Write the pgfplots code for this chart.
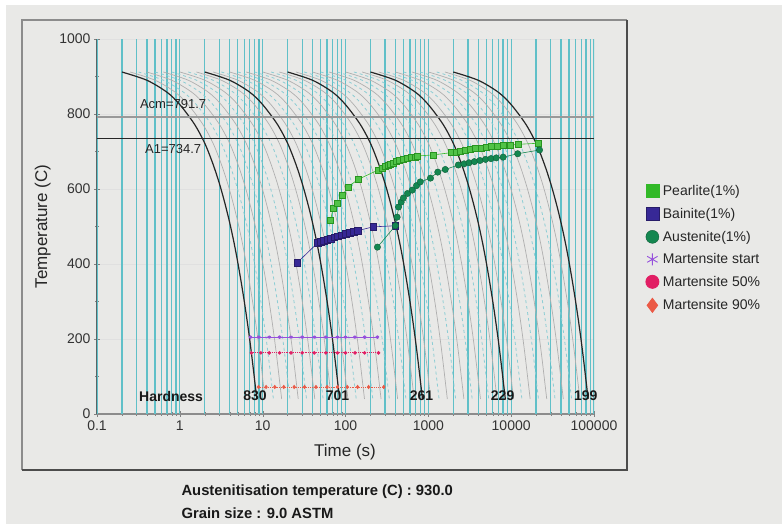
\documentclass[border=0pt]{standalone}
\usepackage{fontspec}
\setmainfont{Liberation Sans}
\usepackage{pgfplots}
\pgfplotsset{compat=1.18}
\usepackage{pgfplotstable}

\definecolor{bg}{RGB}{233,233,231}
\definecolor{cyangrid}{RGB}{96,192,200}
\definecolor{dashcyan}{RGB}{140,205,212}
\definecolor{graycurve}{RGB}{175,175,175}
\definecolor{pearl}{RGB}{50,185,40}
\definecolor{bain}{RGB}{55,40,150}
\definecolor{aust}{RGB}{20,135,80}
\definecolor{mstart}{RGB}{150,80,220}
\definecolor{mfifty}{RGB}{225,30,100}
\definecolor{mninety}{RGB}{235,90,70}

% base cooling curve (time s, temperature C)
\pgfplotstableread{
t T
0.2 912
0.4 890
0.7 858
1.0 825
1.5 773
2.0 722
2.5 668
3.0 615
3.5 562
4.0 510
4.5 458
5.0 405
5.5 352
6.0 300
6.5 248
7.0 196
7.5 143
8.0 90
8.5 40
}\cool

\pgfplotstableread{
t T
66 517
71 549
80 562
92 584
108 606
143 626
250 651
275 656
300 660
325 664
350 667
380 670
410 673
450 676
500 679
560 682
620 684
690 686
740 688
1150 691
1900 697
2150 699
2450 701
2800 704
3200 706
3700 708
4300 710
5000 711
5800 713
6800 715
8100 716
9800 717
12000 719
21000 722
}\pearlite

\pgfplotstableread{
t T
26 403
46 456
50 459
55 462
60 465
66 468
73 471
81 474
90 477
100 480
112 483
125 486
140 489
215 499
400 502
}\bainite

\pgfplotstableread{
t T
243 445
400 502
420 525
437 552
470 565
500 576
560 588
640 597
720 609
800 619
1060 629
1300 645
1600 652
2300 664
2700 667
3100 670
3600 673
4200 676
4900 679
5700 681
6600 683
8000 685
12000 694
22000 704
}\austenite

\begin{document}
\begin{tikzpicture}
\fill[white] (0pt,0pt) rectangle (782pt,-526pt);
\fill[bg] (6pt,-5pt) rectangle (782pt,-524pt);
\draw[black!45, line width=1.5pt] (22pt,-470pt) -- (22pt,-20pt) -- (627pt,-20pt);
\draw[black!70, line width=1.5pt] (627pt,-20pt) -- (627pt,-470pt) -- (22pt,-470pt);
\begin{axis}[
  at={(97pt,-414pt)}, anchor=south west, scale only axis,
  width=497pt, height=375pt,
  xmode=log, xmin=0.1, xmax=100000, ymin=0, ymax=1000,
  clip mode=individual,
  axis lines=left, axis line style={-},
  x axis line style={black!45, line width=2.2pt},
  y axis line style={black!65, line width=1pt},
  xtick={0.1,1,10,100,1000,10000,100000},
  xticklabels={0.1,1,10,100,1000,10000,100000},
  minor xtick={0.2,0.3,0.4,0.5,0.6,0.7,0.8,0.9,2,3,4,5,6,7,8,9,20,30,40,50,60,70,80,90,200,300,400,500,600,700,800,900,2000,3000,4000,5000,6000,7000,8000,9000,20000,30000,40000,50000,60000,70000,80000,90000},
  ytick={0,200,400,600,800,1000},
  minor ytick={100,300,500,700,900},
  tick align=center, major tick length=6pt, minor tick length=4pt,
  xmajorgrids=false, xminorgrids=false, ymajorgrids=true,
  major y grid style={black!12, line width=0.8pt},
  /pgf/number format/1000 sep={},
  /pgf/number format/assume math mode=true,
  ticklabel style={font=\fontsize{14}{16}\selectfont, text=black!80},
  xlabel={Time (s)}, ylabel={Temperature (C)},
  xlabel style={at={(axis description cs:0.499,-0.101)}, anchor=center, font=\fontsize{17}{19}\selectfont, text=black!85},
  ylabel style={at={(axis description cs:-0.109,0.5)}, anchor=center, font=\fontsize{17}{19}\selectfont, text=black!85},
  legend style={draw=none, fill=none, at={(axis description cs:1.104,0.613)}, anchor=north west,
    font=\fontsize{14}{16}\selectfont, row sep=10pt, inner sep=0pt,
    nodes={text=black!85, inner xsep=4pt, inner ysep=0pt}},
  legend cell align=left,
]
% vertical time grid (cyan)
\addplot[forget plot, cyangrid, line width=1.3pt, ycomb, mark=none] coordinates {
 (0.1,1000) (0.2,1000) (0.3,1000) (0.4,1000) (0.5,1000) (0.6,1000) (0.7,1000) (0.8,1000) (0.9,1000)
 (1,1000) (2,1000) (3,1000) (4,1000) (5,1000) (6,1000) (7,1000) (8,1000) (9,1000)
 (10,1000) (20,1000) (30,1000) (40,1000) (50,1000) (60,1000) (70,1000) (80,1000) (90,1000)
 (100,1000) (200,1000) (300,1000) (400,1000) (500,1000) (600,1000) (700,1000) (800,1000) (900,1000)
 (1000,1000) (2000,1000) (3000,1000) (4000,1000) (5000,1000) (6000,1000) (7000,1000) (8000,1000) (9000,1000)
 (10000,1000) (20000,1000) (30000,1000) (40000,1000) (50000,1000) (60000,1000) (70000,1000) (80000,1000) (90000,1000)
 (100000,1000)};
% gray cooling curves (solid)
\pgfplotsinvokeforeach{1.259,1.995,3.162,5.012,7.943,12.59,19.95,31.62,50.12,79.43,125.9,199.5,316.2,501.2,794.3,1259,1995,3162,5012,7943}{
  \addplot[forget plot, graycurve, line width=0.7pt, smooth] table[x expr=\thisrow{t}*#1, y=T] {\cool};
}
% dashed cooling curves
\pgfplotsinvokeforeach{1.585,2.512,3.981,6.310,15.85,25.12,39.81,63.10,158.5,251.2,398.1,631.0,1585,2512,3981,6310}{
  \addplot[forget plot, dashcyan, line width=0.8pt, dashed, smooth] table[x expr=\thisrow{t}*#1, y=T] {\cool};
}
% black cooling curves
\pgfplotsinvokeforeach{1,10,100,1000,10000}{
  \addplot[forget plot, black!85, line width=1.2pt, smooth] table[x expr=\thisrow{t}*#1, y=T] {\cool};
}
% critical temperatures
\addplot[forget plot, black!40, line width=2.2pt] coordinates {(0.1,791.7) (100000,791.7)};
\addplot[forget plot, black!85, line width=1.4pt] coordinates {(0.1,734.7) (100000,734.7)};

\addplot[pearl, line width=0.6pt, mark=square*, mark size=3pt, mark options={fill=pearl!85!white, draw=pearl!80!black, line width=0.4pt},
  legend image post style={only marks, mark size=6.5pt, mark options={fill=pearl, draw=pearl}}] table[x=t,y=T] {\pearlite};
\addlegendentry{Pearlite(1\%)}
\addplot[bain, line width=0.6pt, mark=square*, mark size=3.3pt, mark options={fill=bain, draw=bain!70!black, line width=0.4pt},
  legend image post style={only marks, mark size=6.5pt}] table[x=t,y=T] {\bainite};
\addlegendentry{Bainite(1\%)}
\addplot[aust, line width=0.6pt, mark=*, mark size=3.2pt, mark options={fill=aust, draw=aust!70!black, line width=0.4pt},
  legend image post style={only marks, mark size=6.5pt}] table[x=t,y=T] {\austenite};
\addlegendentry{Austenite(1\%)}
\addplot[mstart, line width=0.9pt, mark=asterisk, mark size=1.8pt,
  legend image post style={only marks, mark size=6pt}] coordinates {
  (7.1,205) (9,205) (12,205) (16,205) (22,205) (30,205) (42,205) (58,205) (80,205) (100,205) (130,205) (170,205) (243,205)};
\addlegendentry{Martensite start}
\addplot[mfifty, line width=0.9pt, densely dotted, mark=*, mark size=1.3pt, mark options={solid},
  legend image post style={only marks, mark size=6.5pt}] coordinates {
  (7.3,163) (9.5,163) (12,163) (16,163) (22,163) (30,163) (42,163) (58,163) (80,163) (100,163) (130,163) (170,163) (250,163)};
\addlegendentry{Martensite 50\%}
\addplot[mninety, line width=0.9pt, densely dotted, mark=diamond*, mark size=1.5pt, mark options={solid},
  legend image post style={only marks, mark size=7pt}] coordinates {
  (8.9,72) (11,72) (14,72) (18,72) (24,72) (32,72) (44,72) (60,72) (80,72) (105,72) (140,72) (190,72) (290,72)};
\addlegendentry{Martensite 90\%}

\node[font=\fontsize{13}{15}\selectfont, text=black!85] at (axis cs:0.83,827) {Acm=791.7};
\node[font=\fontsize{13}{15}\selectfont, text=black!85] at (axis cs:0.83,707) {A1=734.7};
\begin{scope}[every node/.style={font=\bfseries\fontsize{14}{16}\selectfont, text=black!90}]
\node at (axis cs:0.785,48) {Hardness};
\node at (axis cs:8.1,48) {830};
\node at (axis cs:80,48) {701};
\node at (axis cs:828,48) {261};
\node at (axis cs:7890,48) {229};
\node at (axis cs:79400,48) {199};
\end{scope}
\end{axis}
\node[anchor=west, font=\bfseries\fontsize{14.8}{16}\selectfont, text=black!90] at (178pt,-492pt) {Austenitisation temperature (C) : 930.0};
\node[anchor=west, font=\bfseries\fontsize{14.8}{16}\selectfont, text=black!90] at (178pt,-513pt) {Grain size : 9.0 ASTM};
\end{tikzpicture}
\end{document}
